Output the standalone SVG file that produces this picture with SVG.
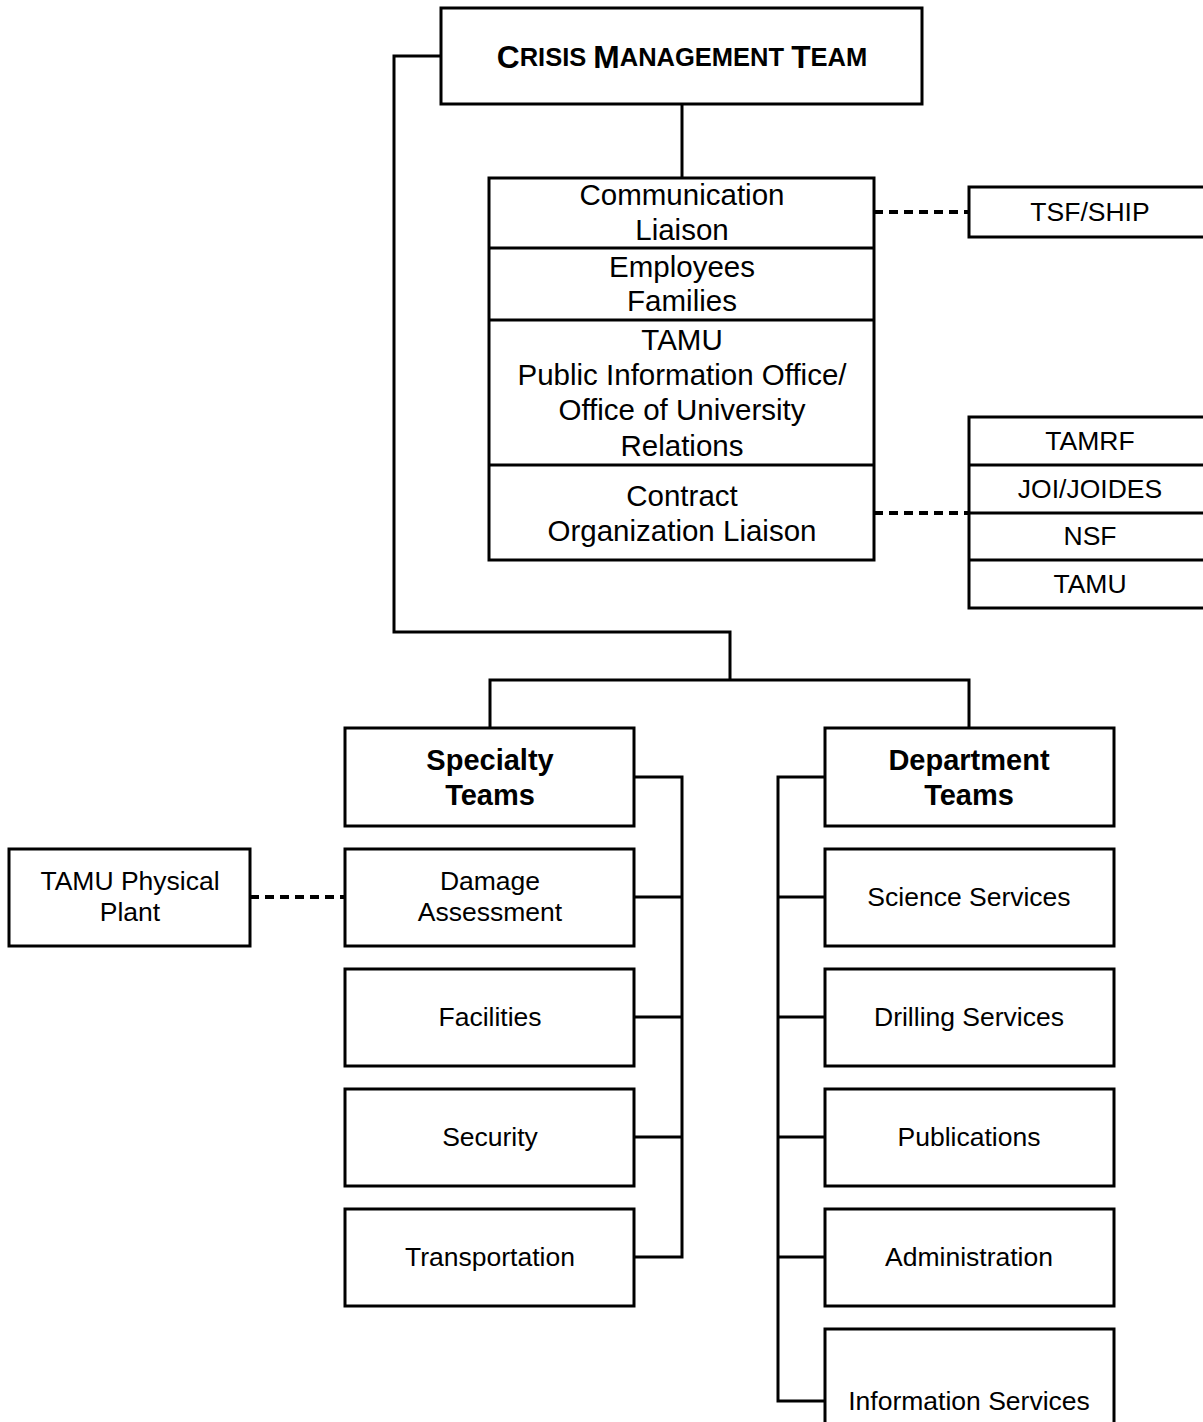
<svg xmlns="http://www.w3.org/2000/svg" width="1203" height="1422" viewBox="0 0 1203 1422">
<style>
  .box { fill: #fff; stroke: #000; stroke-width: 3; }
  .ln { fill: none; stroke: #000; stroke-width: 3; }
  .dash { fill: none; stroke: #000; stroke-width: 4; stroke-dasharray: 9 6; }
  text { font-family: "Liberation Sans", Arial, sans-serif; font-size: 29.5px; text-anchor: middle; dominant-baseline: central; fill: #000; }
  .b { font-weight: bold; font-size: 29px; }
  .s { font-size: 26.5px; }
</style>
<rect x="0" y="0" width="1203" height="1422" fill="#fff"/>
<g id="connectors">
  <polyline class="ln" points="441,56 394,56 394,632 730,632 730,680"/>
  <polyline class="ln" points="490,728 490,680 969,680 969,728"/>
  <line class="ln" x1="682" y1="104" x2="682" y2="178"/>
  <line class="dash" x1="874" y1="212" x2="969" y2="212"/>
  <line class="dash" x1="874" y1="513" x2="969" y2="513"/>
  <line class="dash" x1="250" y1="897" x2="345" y2="897"/>
  <polyline class="ln" points="634,777 682,777 682,1257 634,1257"/>
  <line class="ln" x1="634" y1="897" x2="682" y2="897"/>
  <line class="ln" x1="634" y1="1017" x2="682" y2="1017"/>
  <line class="ln" x1="634" y1="1137" x2="682" y2="1137"/>
  <polyline class="ln" points="825,777 778,777 778,1401 825,1401"/>
  <line class="ln" x1="778" y1="897" x2="825" y2="897"/>
  <line class="ln" x1="778" y1="1017" x2="825" y2="1017"/>
  <line class="ln" x1="778" y1="1137" x2="825" y2="1137"/>
  <line class="ln" x1="778" y1="1257" x2="825" y2="1257"/>
</g>
<g id="cmt">
  <rect class="box" x="441" y="8" width="481" height="96"/>
  <text x="682" y="57" class="b" style="font-size:31.7px"><tspan>C</tspan><tspan style="font-size:25.5px">RISIS </tspan><tspan>M</tspan><tspan style="font-size:25.5px">ANAGEMENT </tspan><tspan>T</tspan><tspan style="font-size:25.5px">EAM</tspan></text>
</g>
<g id="liaison-stack">
  <rect class="box" x="489" y="178" width="385" height="382"/>
  <line class="ln" x1="489" y1="248" x2="874" y2="248"/>
  <line class="ln" x1="489" y1="320" x2="874" y2="320"/>
  <line class="ln" x1="489" y1="465" x2="874" y2="465"/>
  <text x="682" y="194">Communication</text>
  <text x="682" y="229">Liaison</text>
  <text x="682" y="266">Employees</text>
  <text x="682" y="300">Families</text>
  <text x="682" y="339">TAMU</text>
  <text x="682" y="374">Public Information Office/</text>
  <text x="682" y="409">Office of University</text>
  <text x="682" y="445">Relations</text>
  <text x="682" y="495">Contract</text>
  <text x="682" y="530">Organization Liaison</text>
</g>
<g id="tsf-ship">
  <rect class="box" x="969" y="187" width="240" height="50"/>
  <text x="1090" y="212" class="s">TSF/SHIP</text>
</g>
<g id="contract-orgs">
  <rect class="box" x="969" y="417" width="240" height="191"/>
  <line class="ln" x1="969" y1="465" x2="1203" y2="465"/>
  <line class="ln" x1="969" y1="513" x2="1203" y2="513"/>
  <line class="ln" x1="969" y1="560" x2="1203" y2="560"/>
  <text x="1090" y="441" class="s">TAMRF</text>
  <text x="1090" y="489" class="s">JOI/JOIDES</text>
  <text x="1090" y="536" class="s">NSF</text>
  <text x="1090" y="584" class="s">TAMU</text>
</g>
<g id="specialty-teams">
  <rect class="box" x="345" y="728" width="289" height="98"/>
  <text x="490" y="760" class="b">Specialty</text>
  <text x="490" y="795" class="b">Teams</text>
</g>
<g id="department-teams">
  <rect class="box" x="825" y="728" width="289" height="98"/>
  <text x="969" y="760" class="b">Department</text>
  <text x="969" y="795" class="b">Teams</text>
</g>
<g id="tamu-physical-plant">
  <rect class="box" x="9" y="849" width="241" height="97"/>
  <text x="130" y="881" class="s">TAMU Physical</text>
  <text x="130" y="912" class="s">Plant</text>
</g>
<g id="damage-assessment">
  <rect class="box" x="345" y="849" width="289" height="97"/>
  <text x="490" y="881" class="s">Damage</text>
  <text x="490" y="912" class="s">Assessment</text>
</g>
<g id="facilities">
  <rect class="box" x="345" y="969" width="289" height="97"/>
  <text x="490" y="1017" class="s">Facilities</text>
</g>
<g id="security">
  <rect class="box" x="345" y="1089" width="289" height="97"/>
  <text x="490" y="1137" class="s">Security</text>
</g>
<g id="transportation">
  <rect class="box" x="345" y="1209" width="289" height="97"/>
  <text x="490" y="1257" class="s">Transportation</text>
</g>
<g id="science-services">
  <rect class="box" x="825" y="849" width="289" height="97"/>
  <text x="969" y="897" class="s">Science Services</text>
</g>
<g id="drilling-services">
  <rect class="box" x="825" y="969" width="289" height="97"/>
  <text x="969" y="1017" class="s">Drilling Services</text>
</g>
<g id="publications">
  <rect class="box" x="825" y="1089" width="289" height="97"/>
  <text x="969" y="1137" class="s">Publications</text>
</g>
<g id="administration">
  <rect class="box" x="825" y="1209" width="289" height="97"/>
  <text x="969" y="1257" class="s">Administration</text>
</g>
<g id="information-services">
  <rect class="box" x="825" y="1329" width="289" height="120"/>
  <text x="969" y="1401" class="s">Information Services</text>
</g>
</svg>
